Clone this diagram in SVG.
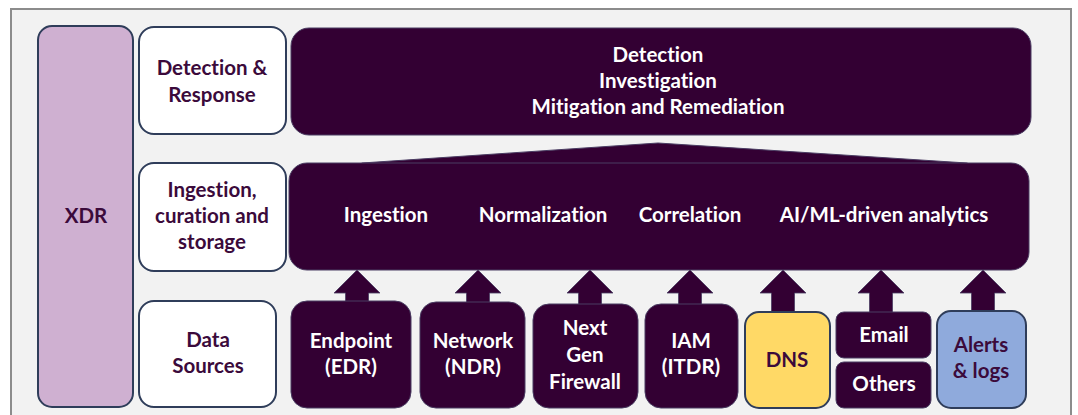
<svg xmlns="http://www.w3.org/2000/svg" width="1078" height="415" viewBox="0 0 1078 415">
  <style>
    .frame{fill:#f2f2f2;stroke:#8c8c8c;stroke-width:2}
    .dark{fill:#330033;stroke:#4a3c62;stroke-width:1}
    .side{fill:#ffffff;stroke:#2f3d5a;stroke-width:2}
    .t{font-family:Lato,"Open Sans","Liberation Sans",sans-serif;font-weight:700;font-size:20.5px;text-anchor:middle;font-variant-ligatures:none}
    .w{fill:#ffffff}
    .p{fill:#3b0a3b}
    .arrow{fill:#330033;stroke:#4a3c62;stroke-width:0.8}
  </style>
  <defs>
    <!-- block arrow pointing up; tip at the origin -->
    <path id="up" d="M0,0 L23,23 L11.5,23 L11.5,44 L-11.5,44 L-11.5,23 L-23,23 Z"/>
  </defs>

  <!-- panel background -->
  <rect class="frame" x="11" y="9" width="1060" height="420"/>

  <!-- connectors -->
  <g id="connectors">
    <!-- funnel from the processing layer up to the response layer -->
    <path class="dark" d="M356,167 L362,163 L658,143 L967,163 L975,167 Z"/>
    <use href="#up" class="arrow" x="357" y="270"/>
    <use href="#up" class="arrow" x="478" y="270"/>
    <use href="#up" class="arrow" x="590" y="270"/>
    <use href="#up" class="arrow" x="690" y="270"/>
    <use href="#up" class="arrow" x="783" y="270"/>
    <use href="#up" class="arrow" x="881" y="270"/>
    <use href="#up" class="arrow" x="983" y="270"/>
  </g>

  <g id="xdr">
    <rect x="38" y="26" width="95" height="381" rx="14" fill="#cfb0d1" stroke="#2f3d5a" stroke-width="2"/>
    <text class="t p" x="86" y="223">XDR</text>
  </g>

  <g id="layer-response">
    <rect class="side" x="139" y="27" width="147" height="107" rx="15"/>
    <text class="t p" x="212" y="75">Detection &amp;</text>
    <text class="t p" x="212" y="102">Response</text>
  </g>

  <g id="layer-processing">
    <rect class="side" x="139" y="163" width="147" height="108" rx="15"/>
    <text class="t p" x="212" y="197">Ingestion,</text>
    <text class="t p" x="212" y="223">curation and</text>
    <text class="t p" x="212" y="249">storage</text>
  </g>

  <g id="layer-sources">
    <rect class="side" x="139" y="301" width="137" height="106" rx="15"/>
    <text class="t p" x="208" y="347">Data</text>
    <text class="t p" x="208" y="373">Sources</text>
  </g>

  <g id="response">
    <rect class="dark" x="291" y="28" width="740" height="107" rx="18"/>
    <text class="t w" x="658" y="62">Detection</text>
    <text class="t w" x="658" y="88">Investigation</text>
    <text class="t w" x="658" y="114">Mitigation and Remediation</text>
  </g>

  <g id="processing">
    <rect class="dark" x="289" y="163" width="740" height="107" rx="18"/>
    <text class="t w" x="386" y="222">Ingestion</text>
    <text class="t w" x="543" y="222">Normalization</text>
    <text class="t w" x="690" y="222">Correlation</text>
    <text class="t w" x="884" y="222">AI/ML-driven analytics</text>
  </g>

  <g id="endpoint">
    <rect class="dark" x="291" y="301" width="120" height="107" rx="16"/>
    <text class="t w" x="351" y="348">Endpoint</text>
    <text class="t w" x="351" y="374">(EDR)</text>
  </g>

  <g id="network">
    <rect class="dark" x="420" y="302" width="105" height="106" rx="16"/>
    <text class="t w" x="473" y="348">Network</text>
    <text class="t w" x="473" y="374">(NDR)</text>
  </g>

  <g id="firewall">
    <rect class="dark" x="533" y="304" width="105" height="104" rx="16"/>
    <text class="t w" x="585" y="335">Next</text>
    <text class="t w" x="585" y="362">Gen</text>
    <text class="t w" x="585" y="389">Firewall</text>
  </g>

  <g id="iam">
    <rect class="dark" x="645" y="304" width="93" height="104" rx="16"/>
    <text class="t w" x="691" y="348">IAM</text>
    <text class="t w" x="691" y="374">(ITDR)</text>
  </g>

  <g id="dns">
    <rect x="745" y="312" width="85" height="96" rx="14" fill="#ffd966" stroke="#2f3d5a" stroke-width="2"/>
    <text class="t p" x="787" y="367">DNS</text>
  </g>

  <g id="email">
    <rect class="dark" x="836" y="312" width="95" height="46" rx="8"/>
    <text class="t w" x="884" y="342">Email</text>
  </g>

  <g id="others">
    <rect class="dark" x="836" y="362" width="95" height="46" rx="8"/>
    <text class="t w" x="884" y="391">Others</text>
  </g>

  <g id="alerts">
    <rect x="937" y="311" width="89" height="97" rx="14" fill="#8faadc" stroke="#2f3d5a" stroke-width="2"/>
    <text class="t p" x="981" y="352">Alerts</text>
    <text class="t p" x="981" y="378">&amp; logs</text>
  </g>
</svg>
